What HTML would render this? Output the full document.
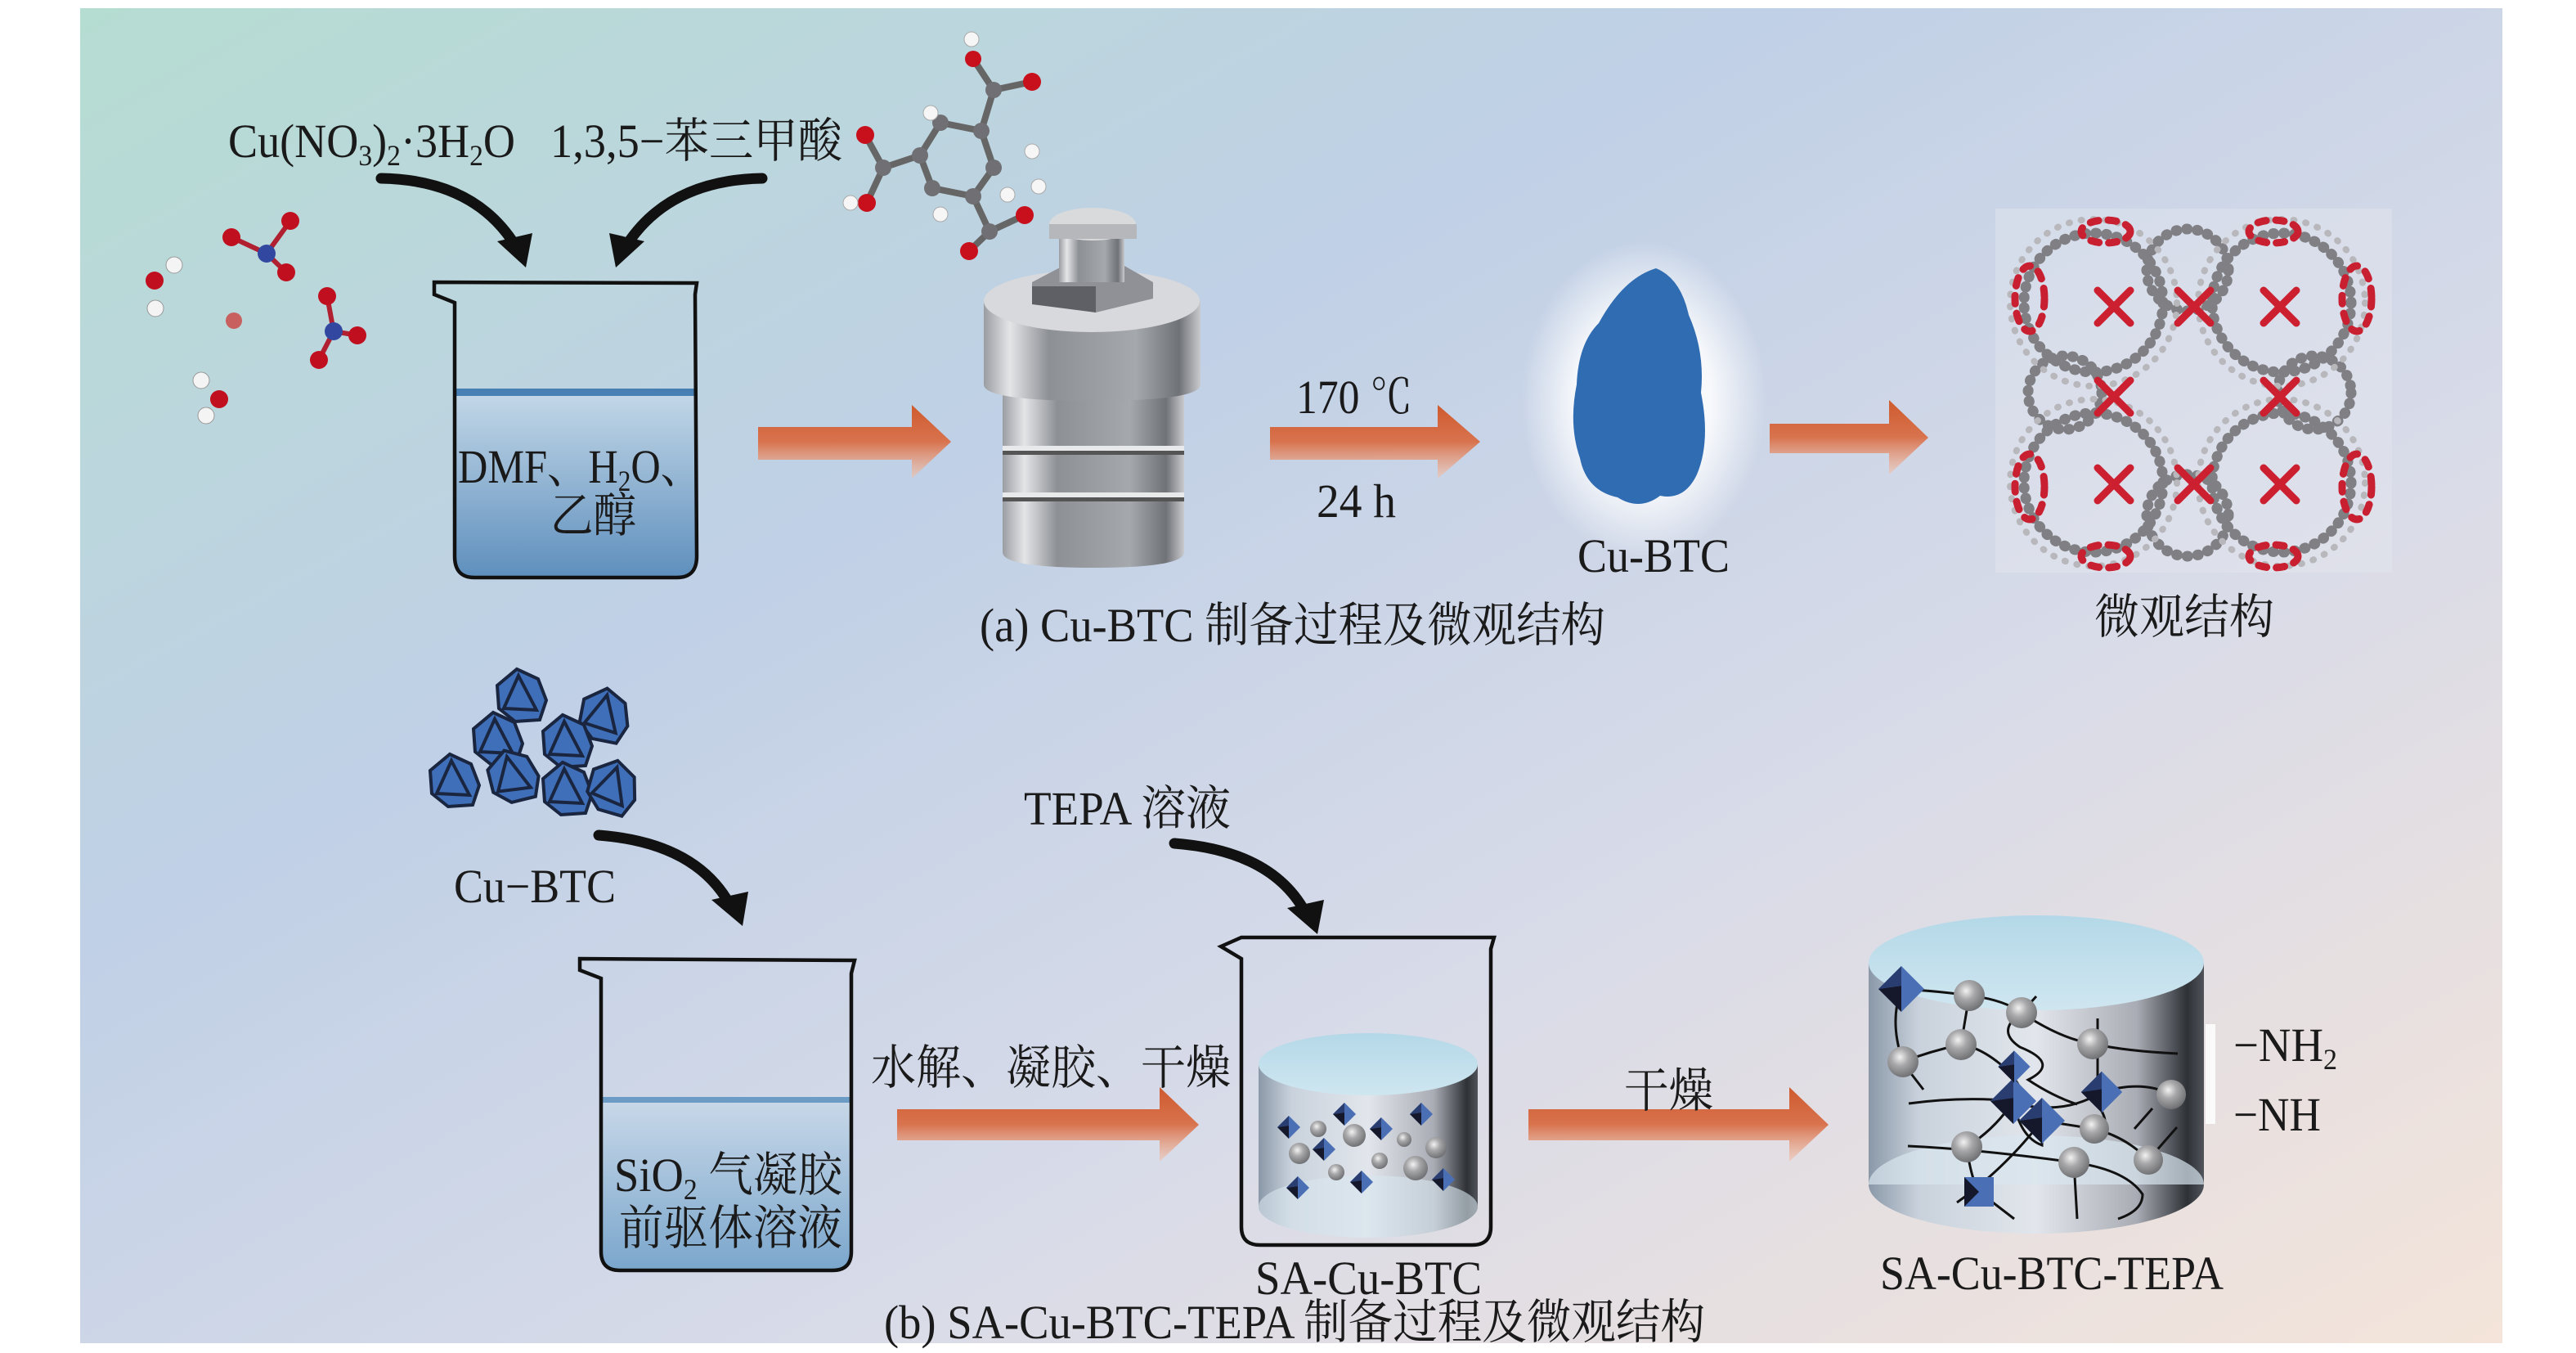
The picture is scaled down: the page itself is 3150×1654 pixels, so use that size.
<!DOCTYPE html>
<html><head><meta charset="utf-8"><style>
html,body{margin:0;padding:0;background:#fff}
svg{display:block}
text{font-family:"Liberation Serif","Noto Serif CJK SC",serif;fill:#1a1a1a}
</style></head><body>
<svg width="3150" height="1654" viewBox="0 0 3150 1654" xmlns="http://www.w3.org/2000/svg">
<defs>
<linearGradient id="bg" x1="0" y1="0" x2="1" y2="1" gradientUnits="objectBoundingBox">
<stop offset="0" stop-color="#b6ddd2"/><stop offset="0.35" stop-color="#c0d0e6"/><stop offset="0.65" stop-color="#d8dbe8"/><stop offset="1" stop-color="#f4e4da"/></linearGradient>
<linearGradient id="org" x1="0" y1="0" x2="0" y2="1"><stop offset="0" stop-color="#cf5a2e"/><stop offset="0.5" stop-color="#d8734e"/><stop offset="1" stop-color="#f0c4b0" stop-opacity="0.6"/></linearGradient>
<linearGradient id="liq" x1="0" y1="0" x2="0" y2="1"><stop offset="0" stop-color="#c4d8e8"/><stop offset="1" stop-color="#5e8fbd"/></linearGradient>
<linearGradient id="liq2" x1="0" y1="0" x2="0" y2="1"><stop offset="0" stop-color="#c8d8e8"/><stop offset="1" stop-color="#7aa6cc"/></linearGradient>
<linearGradient id="metal" x1="0" y1="0" x2="1" y2="0"><stop offset="0" stop-color="#9a9da2"/><stop offset="0.12" stop-color="#e4e5e7"/><stop offset="0.3" stop-color="#8d9095"/><stop offset="0.7" stop-color="#a5a8ac"/><stop offset="0.9" stop-color="#6f7277"/><stop offset="1" stop-color="#c8cacd"/></linearGradient>
<linearGradient id="cyl" x1="0" y1="0" x2="1" y2="0"><stop offset="0" stop-color="#8a98a8"/><stop offset="0.15" stop-color="#c9d2dc"/><stop offset="0.5" stop-color="#e2e6ec"/><stop offset="0.8" stop-color="#a9acb4"/><stop offset="0.95" stop-color="#2e3136"/><stop offset="1" stop-color="#50545a"/></linearGradient>
<linearGradient id="top" x1="0" y1="0" x2="0" y2="1"><stop offset="0" stop-color="#b4d8e8"/><stop offset="1" stop-color="#cfe6f0"/></linearGradient>
<radialGradient id="ball" cx="0.4" cy="0.35" r="0.7"><stop offset="0" stop-color="#f2f2f2"/><stop offset="0.4" stop-color="#a8a8aa"/><stop offset="1" stop-color="#6a6b6e"/></radialGradient>
<radialGradient id="halo" cx="0.5" cy="0.5" r="0.5"><stop offset="0.55" stop-color="#ffffff" stop-opacity="0.85"/><stop offset="1" stop-color="#ffffff" stop-opacity="0"/></radialGradient>
<g id="dia"><polygon points="0,-14 14,0 0,14 -14,0" fill="#4b6fb5"/><polygon points="-14,0 0,-2 0,14" fill="#15182a"/><polygon points="0,-14 0,-2 -14,0" fill="#2a3d70"/></g>
<g id="cry"><path d="M-6,-32 L20,-20 L30,6 L22,30 L-8,32 L-28,16 L-30,-12 Z" fill="#3f6fb8" stroke="#1a2540" stroke-width="4"/><path d="M-4,-24 L18,18 L-22,16 Z" fill="none" stroke="#1a2540" stroke-width="4"/></g>
</defs>
<rect x="0" y="0" width="3150" height="1654" fill="#fff"/>
<rect x="98" y="10" width="2962" height="1632" fill="url(#bg)"/>

<!-- left molecules -->
<g stroke="#b02030" stroke-width="6">
<line x1="283" y1="290" x2="326" y2="310"/><line x1="326" y1="310" x2="355" y2="270"/><line x1="326" y1="310" x2="350" y2="333"/>
<line x1="400" y1="362" x2="408" y2="405"/><line x1="408" y1="405" x2="437" y2="410"/><line x1="408" y1="405" x2="390" y2="440"/>
</g>
<circle cx="326" cy="310" r="11" fill="#3248a0"/><circle cx="408" cy="405" r="11" fill="#3248a0"/>
<g fill="#c01020"><circle cx="283" cy="290" r="11"/><circle cx="355" cy="270" r="11"/><circle cx="350" cy="333" r="11"/><circle cx="400" cy="362" r="11"/><circle cx="437" cy="410" r="11"/><circle cx="390" cy="440" r="11"/><circle cx="189" cy="343" r="11"/><circle cx="268" cy="488" r="11"/></g>
<g fill="#f4f4f4" stroke="#999" stroke-width="1"><circle cx="213" cy="324" r="10"/><circle cx="190" cy="377" r="10"/><circle cx="246" cy="465" r="10"/><circle cx="252" cy="508" r="10"/></g>
<circle cx="286" cy="392" r="10" fill="#c86060"/>

<!-- BTC molecule -->
<g stroke="#666" stroke-width="8" fill="none">
<polygon points="1150,150 1200,160 1215,205 1190,240 1140,230 1125,190"/>
<line x1="1200" y1="160" x2="1215" y2="110"/><line x1="1215" y1="110" x2="1190" y2="72"/><line x1="1215" y1="110" x2="1262" y2="100"/>
<line x1="1125" y1="190" x2="1080" y2="205"/><line x1="1080" y1="205" x2="1058" y2="165"/><line x1="1080" y1="205" x2="1060" y2="248"/>
<line x1="1190" y1="240" x2="1210" y2="283"/><line x1="1210" y1="283" x2="1253" y2="263"/><line x1="1210" y1="283" x2="1185" y2="307"/>
</g>
<g fill="#707074"><circle cx="1150" cy="150" r="10"/><circle cx="1200" cy="160" r="10"/><circle cx="1215" cy="205" r="10"/><circle cx="1190" cy="240" r="10"/><circle cx="1140" cy="230" r="10"/><circle cx="1125" cy="190" r="10"/><circle cx="1215" cy="110" r="10"/><circle cx="1080" cy="205" r="10"/><circle cx="1210" cy="283" r="10"/></g>
<g fill="#c8101c"><circle cx="1190" cy="72" r="10"/><circle cx="1262" cy="100" r="11"/><circle cx="1058" cy="165" r="11"/><circle cx="1060" cy="248" r="11"/><circle cx="1253" cy="263" r="11"/><circle cx="1185" cy="307" r="11"/></g>
<g fill="#f6f6f6" stroke="#aaa"><circle cx="1188" cy="48" r="9"/><circle cx="1138" cy="138" r="9"/><circle cx="1262" cy="185" r="9"/><circle cx="1150" cy="262" r="9"/><circle cx="1232" cy="238" r="9"/><circle cx="1270" cy="228" r="9"/><circle cx="1040" cy="248" r="9"/></g>

<!-- texts top -->
<text x="279" y="192" font-size="58" textLength="351" lengthAdjust="spacingAndGlyphs">Cu(NO<tspan font-size="36" dy="10">3</tspan><tspan dy="-10">)</tspan><tspan font-size="36" dy="10">2</tspan><tspan dy="-10">·3H</tspan><tspan font-size="36" dy="10">2</tspan><tspan dy="-10">O</tspan></text>
<text x="673" y="192" font-size="58" textLength="357" lengthAdjust="spacingAndGlyphs">1,3,5−苯三甲酸</text>

<!-- curved arrows -->
<g fill="none" stroke="#111" stroke-width="13" stroke-linecap="round">
<path d="M466,218 Q580,220 630,300"/><path d="M932,218 Q818,220 766,300"/>
<path d="M732,1021 Q850,1030 892,1105"/><path d="M1436,1031 Q1555,1040 1596,1115"/>
</g>
<g fill="#111">
<polygon points="608,295 651,285 643,327"/><polygon points="745,285 788,295 753,327"/>
<polygon points="870,1100 915,1090 908,1132"/><polygon points="1574,1110 1619,1100 1611,1142"/>
</g>

<!-- beaker 1 -->
<path d="M556,479 L852,479 L852,680 Q852,706 828,706 L580,706 Q556,706 556,680 Z" fill="url(#liq)"/>
<rect x="556" y="475" width="296" height="9" fill="#2a6aa8" opacity="0.8"/>
<path d="M531,345 L852,346 L850,360 L852,680 Q852,706 828,706 L580,706 Q556,706 556,680 L556,370 L531,360 Z" fill="none" stroke="#111" stroke-width="4.5"/>
<text x="560" y="590" font-size="58" textLength="298" lengthAdjust="spacingAndGlyphs">DMF、H<tspan font-size="36" dy="10">2</tspan><tspan dy="-10">O、</tspan></text>
<text x="673" y="650" font-size="58" textLength="105" lengthAdjust="spacingAndGlyphs">乙醇</text>

<!-- orange arrows -->
<g fill="url(#org)">
<path d="M927,522 L1115,522 L1115,495 L1163,540 L1115,585 L1115,562 L927,562 Z"/>
<path d="M1553,522 L1758,522 L1758,495 L1810,540 L1758,585 L1758,562 L1553,562 Z"/>
<path d="M2164,518 L2310,518 L2310,489 L2358,535 L2310,580 L2310,554 L2164,554 Z"/>
<path d="M1097,1356 L1418,1356 L1418,1329 L1466,1375 L1418,1420 L1418,1394 L1097,1394 Z"/>
<path d="M1869,1356 L2188,1356 L2188,1329 L2236,1375 L2188,1420 L2188,1394 L1869,1394 Z"/>
</g>

<!-- autoclave -->
<path d="M1226,480 L1448,480 L1448,675 Q1448,694 1337,694 Q1226,694 1226,675 Z" fill="url(#metal)"/>
<rect x="1226" y="545" width="222" height="6" fill="#e8e9eb"/><rect x="1226" y="551" width="222" height="5" fill="#555"/>
<rect x="1226" y="602" width="222" height="6" fill="#e8e9eb"/><rect x="1226" y="608" width="222" height="5" fill="#555"/>
<path d="M1203,368 L1468,368 L1468,470 Q1468,490 1335,490 Q1203,490 1203,470 Z" fill="url(#metal)"/>
<ellipse cx="1335" cy="368" rx="132" ry="38" fill="#d8d9dc"/>
<polygon points="1262,345 1300,325 1375,325 1410,345 1410,365 1340,382 1262,370" fill="#8f9196"/>
<polygon points="1262,350 1340,350 1340,382 1262,372" fill="#5e6065"/>
<rect x="1295" y="285" width="80" height="60" fill="url(#metal)"/>
<ellipse cx="1336" cy="274" rx="53" ry="20" fill="#d9dadc"/><rect x="1283" y="274" width="107" height="18" fill="#b5b7ba"/>

<!-- 170 / 24h -->
<text x="1585" y="505" font-size="58" textLength="142" lengthAdjust="spacingAndGlyphs">170 ℃</text>
<text x="1610" y="632" font-size="58" textLength="97" lengthAdjust="spacingAndGlyphs">24 h</text>

<!-- Cu-BTC blob -->
<ellipse cx="2010" cy="490" rx="150" ry="195" fill="url(#halo)"/>
<path d="M2025,328 Q2055,340 2065,385 Q2085,430 2080,480 Q2092,540 2075,580 Q2060,612 2030,606 Q2005,625 1978,608 Q1940,600 1932,560 Q1918,520 1928,470 Q1930,420 1955,395 Q1985,340 2025,328 Z" fill="#2f6cb2"/>
<text x="1929" y="699" font-size="58" textLength="186" lengthAdjust="spacingAndGlyphs">Cu-BTC</text>
<text x="1198" y="784" font-size="58" textLength="765" lengthAdjust="spacingAndGlyphs">(a) Cu-BTC 制备过程及微观结构</text>

<!-- MOF -->
<rect x="2440" y="255" width="485" height="445" fill="#e6e9ef" opacity="0.4"/>
<g fill="none" stroke-linecap="round">
<g stroke="#808084" stroke-width="13" stroke-dasharray="1 12">
<circle cx="2560" cy="370" r="85"/><circle cx="2790" cy="370" r="85"/><circle cx="2560" cy="590" r="85"/><circle cx="2790" cy="590" r="85"/>
<circle cx="2675" cy="330" r="50"/><circle cx="2675" cy="630" r="50"/>
<circle cx="2525" cy="480" r="45"/><circle cx="2830" cy="480" r="45"/>
</g>
<g stroke="#b8b8bc" stroke-width="8" stroke-dasharray="1 14"><circle cx="2560" cy="370" r="102"/><circle cx="2790" cy="370" r="102"/><circle cx="2560" cy="590" r="102"/><circle cx="2790" cy="590" r="102"/></g>
<g stroke="#cc2030" stroke-width="9">
<path d="M2565,355 l40,40 m0,-40 l-40,40"/><path d="M2663,355 l40,40 m0,-40 l-40,40"/><path d="M2768,355 l40,40 m0,-40 l-40,40"/>
<path d="M2565,465 l40,40 m0,-40 l-40,40"/><path d="M2768,465 l40,40 m0,-40 l-40,40"/>
<path d="M2565,572 l40,40 m0,-40 l-40,40"/><path d="M2663,572 l40,40 m0,-40 l-40,40"/><path d="M2768,572 l40,40 m0,-40 l-40,40"/>
</g>
<g stroke="#c82030" stroke-width="9" stroke-dasharray="10 12">
<ellipse cx="2482" cy="365" rx="18" ry="40"/><ellipse cx="2882" cy="365" rx="18" ry="40"/><ellipse cx="2482" cy="595" rx="18" ry="40"/><ellipse cx="2882" cy="595" rx="18" ry="40"/>
<ellipse cx="2575" cy="283" rx="30" ry="14"/><ellipse cx="2780" cy="283" rx="30" ry="14"/><ellipse cx="2575" cy="680" rx="30" ry="14"/><ellipse cx="2780" cy="680" rx="30" ry="14"/>
</g>
</g>
<text x="2561" y="774" font-size="58" textLength="220" lengthAdjust="spacingAndGlyphs">微观结构</text>

<!-- crystals -->
<use href="#cry" x="638" y="850"/><use href="#cry" x="740" y="874" transform="rotate(15 740 874)"/>
<use href="#cry" x="609" y="903"/><use href="#cry" x="694" y="906"/>
<use href="#cry" x="556" y="954"/><use href="#cry" x="628" y="948" transform="rotate(-10 628 948)"/>
<use href="#cry" x="694" y="964"/><use href="#cry" x="750" y="962" transform="rotate(20 750 962)"/>
<text x="555" y="1103" font-size="58" textLength="198" lengthAdjust="spacingAndGlyphs">Cu−BTC</text>

<!-- beaker 2 -->
<path d="M735,1345 L1041,1345 L1041,1530 Q1041,1553 1018,1553 L758,1553 Q735,1553 735,1530 Z" fill="url(#liq2)"/>
<rect x="735" y="1341" width="306" height="7" fill="#6c9cc6"/>
<path d="M709,1172 L1045,1174 L1041,1190 L1041,1530 Q1041,1553 1018,1553 L758,1553 Q735,1553 735,1530 L735,1196 L709,1186 Z" fill="none" stroke="#111" stroke-width="4.5"/>
<text x="751" y="1456" font-size="58" textLength="279" lengthAdjust="spacingAndGlyphs">SiO<tspan font-size="36" dy="10">2</tspan><tspan dy="-10"> 气凝胶</tspan></text>
<text x="757" y="1521" font-size="58" textLength="273" lengthAdjust="spacingAndGlyphs">前驱体溶液</text>

<text x="1065" y="1325" font-size="58" textLength="440" lengthAdjust="spacingAndGlyphs">水解、凝胶、干燥</text>
<text x="1252" y="1008" font-size="58" textLength="253" lengthAdjust="spacingAndGlyphs">TEPA 溶液</text>

<!-- beaker 3 -->
<path d="M1539,1301 L1807,1301 L1807,1475 A134,38 0 0 1 1539,1475 Z" fill="url(#cyl)"/>
<ellipse cx="1673" cy="1475" rx="134" ry="38" fill="#d8e6ef" opacity="0.6"/>
<ellipse cx="1673" cy="1301" rx="134" ry="38" fill="url(#top)"/>
<g fill="url(#ball)"><circle cx="1589" cy="1410" r="13"/><circle cx="1612" cy="1380" r="10"/><circle cx="1656" cy="1388" r="14"/><circle cx="1634" cy="1433" r="10"/><circle cx="1717" cy="1393" r="9"/><circle cx="1687" cy="1419" r="10"/><circle cx="1731" cy="1428" r="15"/><circle cx="1756" cy="1403" r="13"/></g>
<use href="#dia" x="1576" y="1378"/><use href="#dia" x="1644" y="1362"/><use href="#dia" x="1619" y="1405"/><use href="#dia" x="1689" y="1380"/><use href="#dia" x="1738" y="1362"/><use href="#dia" x="1587" y="1452"/><use href="#dia" x="1665" y="1445"/><use href="#dia" x="1765" y="1442"/>
<path d="M1493,1157 L1518,1146 L1827,1146 L1823,1160 L1823,1500 Q1823,1522 1800,1522 L1541,1522 Q1518,1522 1518,1500 L1518,1172 Z" fill="none" stroke="#111" stroke-width="4.5"/>
<text x="1535" y="1582" font-size="58" textLength="277" lengthAdjust="spacingAndGlyphs">SA-Cu-BTC</text>
<text x="1081" y="1636" font-size="58" textLength="1004" lengthAdjust="spacingAndGlyphs">(b) SA-Cu-BTC-TEPA 制备过程及微观结构</text>

<text x="1986" y="1353" font-size="58" textLength="109" lengthAdjust="spacingAndGlyphs">干燥</text>

<!-- big cylinder -->
<path d="M2285,1177 L2695,1177 L2695,1448 A205,60 0 0 1 2285,1448 Z" fill="url(#cyl)"/>
<path d="M2285,1448 A205,60 0 0 1 2695,1448" fill="#d9e6ee" opacity="0.7"/>
<ellipse cx="2490" cy="1177" rx="205" ry="58" fill="url(#top)"/>
<g fill="none" stroke="#111" stroke-width="3">
<path d="M2300,1208 Q2360,1210 2408,1217 Q2450,1222 2472,1238 L2490,1218"/>
<path d="M2325,1209 Q2310,1250 2327,1298"/><path d="M2327,1298 Q2360,1285 2398,1277 L2408,1217"/>
<path d="M2335,1310 L2352,1332"/><path d="M2398,1277 Q2420,1280 2445,1300 Q2470,1320 2480,1352 Q2530,1360 2570,1335"/>
<path d="M2472,1238 Q2440,1260 2470,1280 Q2520,1300 2480,1320 Q2510,1340 2540,1350"/>
<path d="M2472,1238 Q2520,1270 2559,1276 Q2600,1285 2663,1288"/><path d="M2565,1245 L2565,1350 Q2585,1380 2561,1380"/>
<path d="M2334,1349 Q2400,1340 2462,1346 Q2470,1390 2497,1400 L2497,1370"/>
<path d="M2333,1401 Q2420,1405 2536,1421 Q2600,1430 2620,1460 Q2620,1480 2590,1490"/>
<path d="M2405,1402 Q2440,1380 2462,1346"/><path d="M2405,1402 Q2410,1440 2420,1457 L2463,1490"/>
<path d="M2393,1470 Q2450,1430 2497,1370"/><path d="M2497,1370 L2561,1380 Q2600,1390 2627,1418 L2662,1378"/>
<path d="M2536,1421 L2540,1490"/><path d="M2570,1335 Q2620,1320 2655,1338"/><path d="M2610,1380 L2632,1355"/>
</g>
<g fill="url(#ball)"><circle cx="2408" cy="1217" r="19"/><circle cx="2472" cy="1238" r="19"/><circle cx="2398" cy="1277" r="19"/><circle cx="2327" cy="1298" r="19"/><circle cx="2559" cy="1276" r="19"/><circle cx="2655" cy="1338" r="18"/><circle cx="2561" cy="1380" r="18"/><circle cx="2405" cy="1402" r="19"/><circle cx="2536" cy="1421" r="19"/><circle cx="2627" cy="1418" r="18"/></g>
<use href="#dia" transform="translate(2325 1209) scale(2)"/><use href="#dia" transform="translate(2462 1346) scale(2)"/><use href="#dia" transform="translate(2497 1370) scale(2)"/><use href="#dia" transform="translate(2570 1335) scale(1.8)"/><use href="#dia" transform="translate(2463 1304) scale(1.4)"/>
<rect x="2402" y="1439" width="36" height="36" fill="#4b6fb5"/><polygon points="2402,1439 2420,1457 2402,1475" fill="#15182a"/>
<rect x="2697" y="1252" width="12" height="122" fill="#fafafa"/>
<text x="2731" y="1297" font-size="58" textLength="127" lengthAdjust="spacingAndGlyphs">−NH<tspan font-size="36" dy="10">2</tspan></text>
<text x="2731" y="1382" font-size="58" textLength="107" lengthAdjust="spacingAndGlyphs">−NH</text>
<text x="2299" y="1576" font-size="58" textLength="420" lengthAdjust="spacingAndGlyphs">SA-Cu-BTC-TEPA</text>
</svg>
</body></html>
